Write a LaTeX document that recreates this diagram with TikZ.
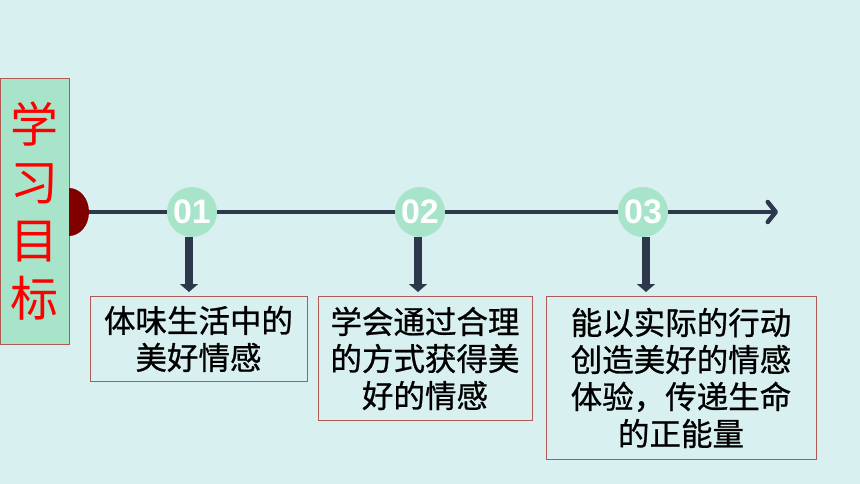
\documentclass[tikz,border=0pt]{standalone}
\usepackage{fontspec}
\setmainfont{Noto Sans CJK SC}
\newfontfamily\numfont{Liberation Sans}
\newfontfamily\goalfont[FakeBold=0.8]{Noto Sans CJK SC}
\usetikzlibrary{arrows.meta,positioning}
\definecolor{bgcyan}{RGB}{216,240,240}
\definecolor{mint}{RGB}{168,228,202}
\definecolor{knobred}{RGB}{128,0,0}
\definecolor{boxred}{RGB}{176,90,86}
\definecolor{slate}{RGB}{46,56,76}

\begin{document}
\begin{tikzpicture}[x=1pt, y=-1pt,
  goal/.style={draw=boxred, line width=0.9pt, anchor=north, align=center, inner sep=0pt,
    font=\goalfont\fontsize{31.5}{37}\selectfont},
  num/.style={circle, fill=mint, minimum size=50pt, inner sep=0pt, text=white,
    font=\numfont\bfseries\fontsize{34}{34}\selectfont},
  down/.style={slate, line width=8.5pt, -{Triangle[length=8pt,width=18pt]}}]
\fill[bgcyan] (0,0) rectangle (860,484);
\useasboundingbox (0,0) rectangle (860,484);
% title bar
\node[draw=boxred, line width=0.9pt, fill=mint, minimum width=69pt, minimum height=266pt,
  inner sep=0pt, anchor=north west] (title) at (0,78) {};
\node[text=red, align=center, font=\fontsize{48}{58}\selectfont] at (title.center) {学\\习\\目\\标};
\fill[knobred] (69,188) arc[start angle=-90, end angle=90, x radius=20, y radius=24];
\coordinate (knob) at (89,212);
\coordinate (tip) at (778,212);
\draw[slate, line width=4.5pt, -{Straight Barb[length=8pt,width=20pt,line cap=round,line join=round]}] (knob) -- (tip);
% steps
\foreach \i/\cx/\dx/\bx/\bw/\bh/\txt in {
  1/192/-3/198.5/217/85/{体味生活中的\\美好情感},
  2/420/-2/425/214/124/{学会通过合理\\的方式获得美\\好的情感},
  3/643/3/681/270/163/{能以实际的行动\\创造美好的情感\\体验，传递生命\\的正能量}} {
  \node[goal, minimum width=\bw pt, minimum height=\bh pt] (b\i) at (\bx,296) {\txt};
  \node[num] (n\i) at (\cx,212) {0\i};
  \draw[down] ([xshift=\dx pt]n\i.south) -- ([xshift=\dx pt,yshift=4pt]n\i.south |- b\i.north);
}
\end{tikzpicture}
\end{document}
